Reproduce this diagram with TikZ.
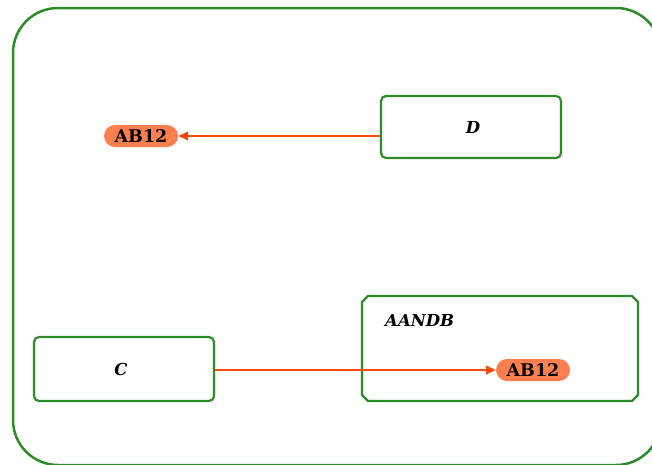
\documentclass[tikz,border=0pt]{standalone}
\usepackage{fontspec}
\usetikzlibrary{arrows.meta,shapes.misc}
\newfontfamily\slab{DejaVu Serif}
\definecolor{frame}{HTML}{2E8B2A}
\definecolor{pill}{HTML}{FF7F4F}
\definecolor{arr}{HTML}{FF4A10}
\tikzset{
  boxtext/.style={font=\fontsize{16.5}{16.5}\selectfont\slab\bfseries\itshape},
  statebox/.style={draw=frame, line width=2.2pt, rounded corners=5pt, minimum width=180pt, minimum height=62pt, inner sep=0pt, boxtext},
  tag/.style={rounded rectangle, fill=pill, draw=none, minimum width=74pt, minimum height=22pt, inner sep=0pt,
    font=\fontsize{17.5}{17.5}\selectfont\slab\bfseries},
  link/.style={draw=arr, line width=1.3pt, -{Triangle[length=10pt,width=9pt]}},
}
\begin{document}
\begin{tikzpicture}[x=1pt,y=-1pt]
\useasboundingbox (0,0) rectangle (652,464);
\clip (0,0) rectangle (652,464);
\fill[white] (0,0) rectangle (652,464);
% outer frame
\draw[frame, line width=2.5pt, rounded corners=45pt] (13,8) rectangle (661,465);
% AANDB composite
\draw[frame, line width=2.2pt] (368,296) -- (632,296) -- (638,302) -- (638,395) -- (632,401) -- (368,401) -- (362,395) -- (362,302) -- cycle;
\node[anchor=west, inner sep=0pt, boxtext] (lab) at (385,320) {AANDB};
% boxes
\node[statebox] (D) at (471,127) {\raisebox{-2pt}{\hspace{4pt}D}};
\node[statebox, minimum height=64pt] (C) at (124,369) {\raisebox{-1pt}{\hspace{-6pt}C}};
% tags
\node[tag] (t1) at (141,136) {AB12};
\node[tag] (t2) at (533,370) {AB12};
% connectors
\draw[link] (D.west |- t1.east) -- (t1.east);
\draw[link] (C.east |- t2.west) -- (t2.west);
\end{tikzpicture}
\end{document}
